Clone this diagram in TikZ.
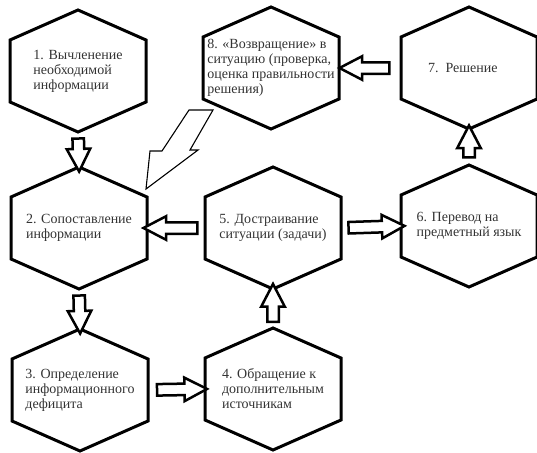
\documentclass[tikz,border=0pt]{standalone}
\usepackage{fontspec}
\setmainfont{Liberation Serif}
\usetikzlibrary{shapes.arrows,calc}

\begin{document}
\begin{tikzpicture}[
    x=1pt, y=-1pt,
    stage/.style={rectangle, minimum width=136pt, minimum height=122pt, inner sep=0pt, outer sep=0pt, align=left, text=black!80, font=\fontsize{14}{15}\selectfont},
    hexline/.style={draw=black, line width=3pt},
    flowarrow/.style={single arrow, draw=black, fill=white, line width=2.5pt, inner xsep=0pt, inner ysep=4.5pt, minimum width=21pt, single arrow head extend=6pt, single arrow tip angle=55, sloped, allow upside down},
    bolt/.style={draw=black, line width=1.1pt}
]
    \useasboundingbox (0,0) rectangle (537,452);

    % Stages
    \node[stage] (s1) at (78,71) {1. Вычленение\\необходимой\\информации};
    \node[stage] (s2) at (79,228) {2. Сопоставление\\информации};
    \node[stage] (s3) at (80,390) {3. Определение\\информационного\\дефицита};
    \node[stage] (s4) at (273,389) {4. Обращение к\\дополнительным\\источникам};
    \node[stage] (s5) at (273,228) {5. Достраивание\\ситуации (задачи)};
    \node[stage] (s6) at (469,226) {6. Перевод на\\предметный язык};
    \node[stage, text width=82pt] (s7) at (469,68) {7. Решение};
    \node[stage] (s8) at (271,68) {8. «Возвращение» в\\ситуацию (проверка,\\оценка правильности\\решения)};

    % Hexagon outlines
    \foreach \i in {1,...,8}
        \draw[hexline] (s\i.north) -- ([yshift=-30pt]s\i.north east) -- ([yshift=30pt]s\i.south east)
            -- (s\i.south) -- ([yshift=30pt]s\i.south west) -- ([yshift=-30pt]s\i.north west) -- cycle;

    % Block arrows
    \path (s1.south) -- node[flowarrow, minimum height=33pt] {} (s2.north);
    \path (s2.south) -- node[flowarrow, minimum height=38pt] {} (s3.north);
    \path (s3.east) -- node[flowarrow, minimum height=50pt] {} (s4.west);
    \path (s4.north) -- node[flowarrow, minimum height=38pt] {} (s5.south);
    \path (s5.west) -- node[flowarrow, minimum height=54pt] {} (s2.east);
    \path (s5.east) -- node[flowarrow, minimum height=56pt] {} (s6.west);
    \path (s6.north) -- node[flowarrow, minimum height=32pt] {} (s7.south);
    \path (s7.west) -- node[flowarrow, minimum height=50pt] {} (s8.east);

    % Lightning back to stage 2
    \draw[bolt] (189,110) -- (213,110) -- (190,150) -- (198,150) -- (146,189) -- (150,151) -- (162,151) -- cycle;
\end{tikzpicture}
\end{document}
